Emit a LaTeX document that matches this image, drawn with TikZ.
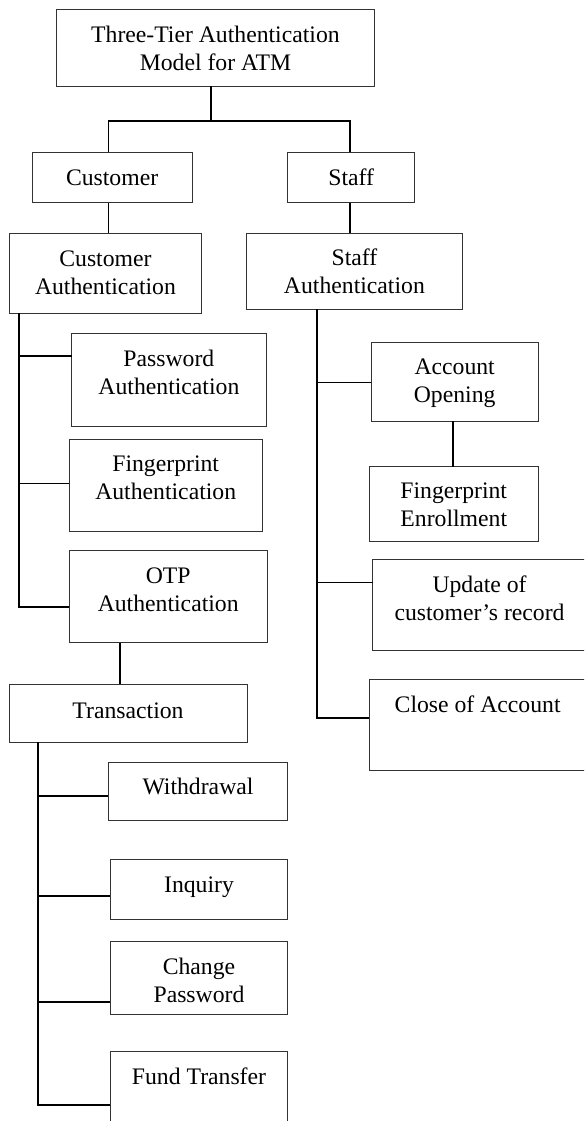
\documentclass[tikz,border=0pt]{standalone}
\usepackage{fontspec}
\setmainfont{Liberation Serif}
\newcommand{\btxt}[2]{\raisebox{#1}[\height][\depth]{\begin{tabular}{@{}c@{}}#2\end{tabular}}}
\begin{document}
\begin{tikzpicture}[x=1pt,y=-1pt,
  box/.style={draw=black!80, line width=1.0pt, anchor=north west, inner sep=0pt, outer sep=0pt,
              font=\fontsize{23.7}{28}\selectfont},
  conn/.style={draw=black, line width=1.7pt}]
\clip (0,0) rectangle (584,1121);
\fill[white] (0,0) rectangle (584,1121);
% boxes
\node[box, minimum width=317.7pt, minimum height=76.6pt] (title) at (56.6,9.7) {\btxt{-2.5pt}{Three-Tier Authentication\\Model for ATM}};
\node[box, minimum width=160.2pt, minimum height=50.7pt] (cust) at (32,152) {\btxt{-2.4pt}{Customer}};
\node[box, minimum width=127.4pt, minimum height=50.7pt] (staff) at (287.5,152) {\btxt{-2.4pt}{Staff}};
\node[box, minimum width=191.9pt, minimum height=80.3pt] (ca) at (9.5,233) {\btxt{-1.5pt}{Customer\\Authentication}};
\node[box, minimum width=215.6pt, minimum height=76pt] (sa) at (246.6,233) {\btxt{-3pt}{Staff\\Authentication}};
\node[box, minimum width=194.6pt, minimum height=92.5pt] (pw) at (71.6,333.8) {\btxt{5.5pt}{Password\\Authentication}};
\node[box, minimum width=192.6pt, minimum height=92pt] (fa) at (69.4,439.2) {\btxt{5pt}{Fingerprint\\Authentication}};
\node[box, minimum width=197.6pt, minimum height=92.4pt] (otp) at (69.4,550.3) {\btxt{4.5pt}{OTP\\Authentication}};
\node[box, minimum width=167.3pt, minimum height=78.7pt] (ao) at (371,342.3) {\btxt{-1pt}{Account\\Opening}};
\node[box, minimum width=169.1pt, minimum height=75pt] (fe) at (369.2,466.5) {\btxt{-3pt}{Fingerprint\\Enrollment}};
\node[box, minimum width=213.9pt, minimum height=91.2pt] (upd) at (372.6,559.3) {\btxt{4.5pt}{Update of\\customer’s record}};
\node[box, minimum width=216.7pt, minimum height=91pt] (close) at (369.3,679) {\btxt{18pt}{Close of Account}};
\node[box, minimum width=238pt, minimum height=58pt] (trans) at (9,684.3) {\btxt{0.6pt}{Transaction}};
\node[box, minimum width=179.4pt, minimum height=57.7pt] (wd) at (108.3,762.3) {\btxt{2.3pt}{Withdrawal}};
\node[box, minimum width=177.4pt, minimum height=60.8pt] (inq) at (110.3,859) {\btxt{3pt}{Inquiry}};
\node[box, minimum width=177.4pt, minimum height=72.3pt] (chg) at (110.3,941.7) {\btxt{-5pt}{Change\\Password}};
\node[box, minimum width=177.4pt, minimum height=91pt] (fund) at (110.3,1051.7) {\btxt{18pt}{Fund Transfer}};
% junction coordinates
\coordinate (jt) at (211,120.7);
\coordinate (jc) at (108.4,120.7);
\coordinate (js) at (349.7,120.7);
\coordinate (cp) at (19,356);
\coordinate (cf) at (19,483.5);
\coordinate (co) at (19,607.3);
\coordinate (ot) at (120,0);
\coordinate (sao) at (317,382.5);
\coordinate (sup) at (317,582.5);
\coordinate (scl) at (317,717.7);
\coordinate (af) at (452.9,0);
\coordinate (tw) at (38,795.7);
\coordinate (ti) at (38,895.7);
\coordinate (tc) at (38,1002);
\coordinate (tf) at (38,1105.3);
% connectors
\draw[conn] (title.south -| jt) -- (jt);
\draw[conn] (cust.north -| jc) -- (jc) -- (js) -- (staff.north -| js);
\draw[conn] (cust.south -| jc) -- (ca.north -| jc);
\draw[conn] (staff.south -| js) -- (sa.north -| js);
\draw[conn] (ca.south -| co) -- (co) -- (otp.west |- co);
\draw[conn] (cp) -- (pw.west |- cp);
\draw[conn] (cf) -- (fa.west |- cf);
\draw[conn] (otp.south -| ot) -- (trans.north -| ot);
\draw[conn] (sa.south -| scl) -- (scl) -- (close.west |- scl);
\draw[conn] (sao) -- (ao.west |- sao);
\draw[conn] (sup) -- (upd.west |- sup);
\draw[conn] (ao.south -| af) -- (fe.north -| af);
\draw[conn] (trans.south -| tf) -- (tf) -- (fund.west |- tf);
\draw[conn] (tw) -- (wd.west |- tw);
\draw[conn] (ti) -- (inq.west |- ti);
\draw[conn] (tc) -- (chg.west |- tc);
\end{tikzpicture}
\end{document}
